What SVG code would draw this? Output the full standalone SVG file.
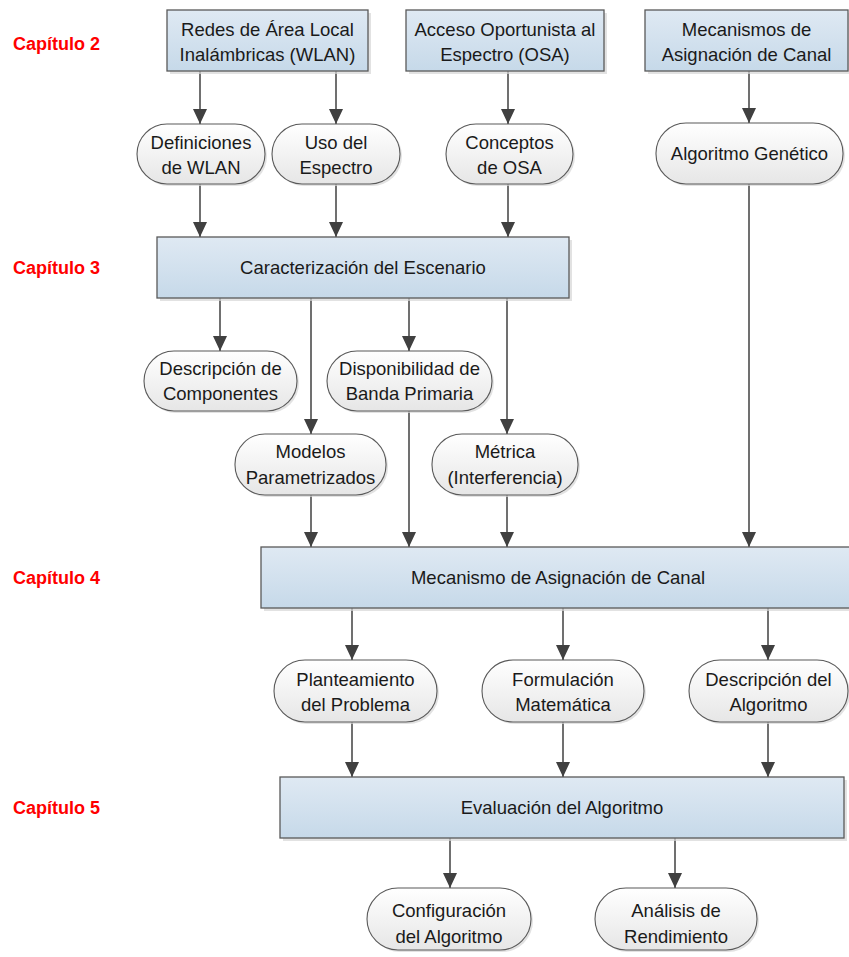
<svg xmlns="http://www.w3.org/2000/svg" width="849" height="957" viewBox="0 0 849 957">
<style>
.box{fill:url(#gBox);stroke:#595959;stroke-width:1.3}
.pill{fill:url(#gPill);stroke:#595959;stroke-width:1.1}
.sh{fill:#d6d6d6;opacity:0.7}
.t{font-family:"Liberation Sans",Arial,sans-serif;font-size:18.5px;fill:#1a1a1a;text-anchor:middle}
.cap{font-family:"Liberation Sans",Arial,sans-serif;font-size:18px;font-weight:bold;fill:#ff0000}
.c{stroke:#404040;stroke-width:1.5;fill:none;marker-end:url(#arr)}
</style>
<defs>
<linearGradient id="gBox" x1="0" y1="0" x2="0" y2="1">
<stop offset="0" stop-color="#dfe9f3"/>
<stop offset="1" stop-color="#c6d9e9"/>
</linearGradient>
<linearGradient id="gPill" x1="0" y1="0" x2="0" y2="1">
<stop offset="0" stop-color="#ffffff"/>
<stop offset="1" stop-color="#e6e6e6"/>
</linearGradient>
<marker id="arr" markerUnits="userSpaceOnUse" markerWidth="15" markerHeight="14" refX="15" refY="7" orient="auto">
<path d="M0,0 L15,7 L0,14 z" fill="#404040"/>
</marker>
</defs>

<g id="chapters">
<text class="cap" x="13" y="50">Capítulo 2</text>
<text class="cap" x="13" y="274">Capítulo 3</text>
<text class="cap" x="13" y="584">Capítulo 4</text>
<text class="cap" x="13" y="814">Capítulo 5</text>
</g>

<g id="connectors">
<line class="c" x1="200" y1="71" x2="200" y2="124"/>
<line class="c" x1="336" y1="71" x2="336" y2="124"/>
<line class="c" x1="508" y1="71" x2="508" y2="124"/>
<line class="c" x1="749" y1="71" x2="749" y2="123"/>
<line class="c" x1="200" y1="184" x2="200" y2="237"/>
<line class="c" x1="336" y1="184" x2="336" y2="237"/>
<line class="c" x1="508" y1="184" x2="508" y2="237"/>
<line class="c" x1="220" y1="298" x2="220" y2="351"/>
<line class="c" x1="311" y1="298" x2="311" y2="434"/>
<line class="c" x1="409" y1="298" x2="409" y2="351"/>
<line class="c" x1="507" y1="298" x2="507" y2="434"/>
<line class="c" x1="311" y1="495" x2="311" y2="547"/>
<line class="c" x1="409" y1="411" x2="409" y2="547"/>
<line class="c" x1="507" y1="495" x2="507" y2="547"/>
<line class="c" x1="749" y1="184" x2="749" y2="547"/>
<line class="c" x1="352" y1="608" x2="352" y2="660"/>
<line class="c" x1="563" y1="608" x2="563" y2="660"/>
<line class="c" x1="768" y1="608" x2="768" y2="660"/>
<line class="c" x1="352" y1="722" x2="352" y2="777"/>
<line class="c" x1="563" y1="722" x2="563" y2="777"/>
<line class="c" x1="768" y1="722" x2="768" y2="777"/>
<line class="c" x1="450" y1="838" x2="450" y2="888"/>
<line class="c" x1="675" y1="838" x2="675" y2="888"/>
</g>

<g id="redes">
<rect class="sh" x="170" y="13" width="201" height="61"/>
<rect class="box" x="167" y="10" width="201" height="61"/>
<text class="t" x="267.5" y="36">Redes de Área Local</text>
<text class="t" x="267.5" y="61">Inalámbricas (WLAN)</text>
</g>
<g id="acceso">
<rect class="sh" x="409" y="13" width="198" height="61"/>
<rect class="box" x="406" y="10" width="198" height="61"/>
<text class="t" x="505" y="36">Acceso Oportunista al</text>
<text class="t" x="505" y="61">Espectro (OSA)</text>
</g>
<g id="mecanismos">
<rect class="sh" x="648" y="13" width="203" height="61"/>
<rect class="box" x="645" y="10" width="203" height="61"/>
<text class="t" x="746.5" y="36">Mecanismos de</text>
<text class="t" x="746.5" y="61">Asignación de Canal</text>
</g>

<g id="definiciones">
<rect class="sh" x="139" y="126" width="128" height="60" rx="30"/>
<rect class="pill" x="137" y="124" width="128" height="60" rx="30"/>
<text class="t" x="201" y="149">Definiciones</text>
<text class="t" x="201" y="174">de WLAN</text>
</g>
<g id="uso">
<rect class="sh" x="274" y="126" width="128" height="60" rx="30"/>
<rect class="pill" x="272" y="124" width="128" height="60" rx="30"/>
<text class="t" x="336" y="149">Uso del</text>
<text class="t" x="336" y="174">Espectro</text>
</g>
<g id="conceptos">
<rect class="sh" x="448" y="126" width="127" height="60" rx="30"/>
<rect class="pill" x="446" y="124" width="127" height="60" rx="30"/>
<text class="t" x="509.5" y="149">Conceptos</text>
<text class="t" x="509.5" y="174">de OSA</text>
</g>
<g id="genetico">
<rect class="sh" x="658" y="125" width="187" height="61" rx="30"/>
<rect class="pill" x="656" y="123" width="187" height="61" rx="30"/>
<text class="t" x="749.5" y="160">Algoritmo Genético</text>
</g>

<g id="caracterizacion">
<rect class="sh" x="160" y="240" width="412" height="61"/>
<rect class="box" x="157" y="237" width="412" height="61"/>
<text class="t" x="363" y="274">Caracterización del Escenario</text>
</g>

<g id="descripcion-componentes">
<rect class="sh" x="146" y="353" width="153" height="60" rx="30"/>
<rect class="pill" x="144" y="351" width="153" height="60" rx="30"/>
<text class="t" x="220.5" y="375">Descripción de</text>
<text class="t" x="220.5" y="400">Componentes</text>
</g>
<g id="disponibilidad">
<rect class="sh" x="329" y="353" width="165" height="60" rx="30"/>
<rect class="pill" x="327" y="351" width="165" height="60" rx="30"/>
<text class="t" x="409.5" y="375">Disponibilidad de</text>
<text class="t" x="409.5" y="400">Banda Primaria</text>
</g>
<g id="modelos">
<rect class="sh" x="237" y="436" width="151" height="61" rx="30"/>
<rect class="pill" x="235" y="434" width="151" height="61" rx="30"/>
<text class="t" x="310.5" y="458">Modelos</text>
<text class="t" x="310.5" y="484">Parametrizados</text>
</g>
<g id="metrica">
<rect class="sh" x="434" y="436" width="146" height="61" rx="30"/>
<rect class="pill" x="432" y="434" width="146" height="61" rx="30"/>
<text class="t" x="505" y="458">Métrica</text>
<text class="t" x="505" y="484">(Interferencia)</text>
</g>

<g id="mecanismo-asignacion">
<rect class="sh" x="264" y="550" width="620" height="61"/>
<rect class="box" x="261" y="547" width="620" height="61"/>
<text class="t" x="558" y="584">Mecanismo de Asignación de Canal</text>
</g>

<g id="planteamiento">
<rect class="sh" x="276" y="662" width="163" height="62" rx="31"/>
<rect class="pill" x="274" y="660" width="163" height="62" rx="31"/>
<text class="t" x="355.5" y="686">Planteamiento</text>
<text class="t" x="355.5" y="711">del Problema</text>
</g>
<g id="formulacion">
<rect class="sh" x="484" y="662" width="162" height="62" rx="31"/>
<rect class="pill" x="482" y="660" width="162" height="62" rx="31"/>
<text class="t" x="563" y="686">Formulación</text>
<text class="t" x="563" y="711">Matemática</text>
</g>
<g id="descripcion-algoritmo">
<rect class="sh" x="691" y="662" width="159" height="62" rx="31"/>
<rect class="pill" x="689" y="660" width="159" height="62" rx="31"/>
<text class="t" x="768.5" y="686">Descripción del</text>
<text class="t" x="768.5" y="711">Algoritmo</text>
</g>

<g id="evaluacion">
<rect class="sh" x="283" y="780" width="564" height="61"/>
<rect class="box" x="280" y="777" width="564" height="61"/>
<text class="t" x="562" y="814">Evaluación del Algoritmo</text>
</g>

<g id="configuracion">
<rect class="sh" x="369" y="890" width="164" height="62" rx="31"/>
<rect class="pill" x="367" y="888" width="164" height="62" rx="31"/>
<text class="t" x="449" y="917">Configuración</text>
<text class="t" x="449" y="943">del Algoritmo</text>
</g>
<g id="analisis">
<rect class="sh" x="597" y="890" width="162" height="62" rx="31"/>
<rect class="pill" x="595" y="888" width="162" height="62" rx="31"/>
<text class="t" x="676" y="917">Análisis de</text>
<text class="t" x="676" y="943">Rendimiento</text>
</g>
</svg>
